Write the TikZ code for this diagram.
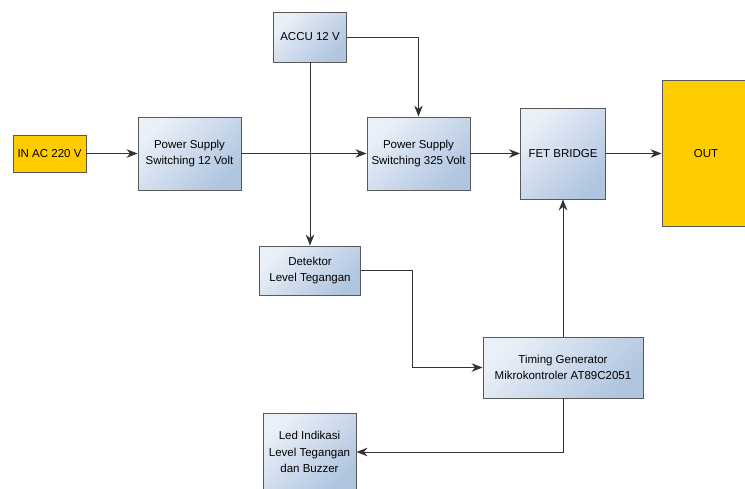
\documentclass[tikz,border=0pt]{standalone}
\usepackage{fontspec}
\setmainfont{Liberation Sans}
\usepackage{tikz}
\usetikzlibrary{arrows.meta}
\definecolor{birumuda}{HTML}{EAF0F8}
\definecolor{birutua}{HTML}{B0C5E0}
\definecolor{kuningout}{HTML}{FFCC00}
\definecolor{garis}{HTML}{333333}
\tikzset{
	blok/.style={draw=black!65, line width=0.9pt, top color=birumuda, bottom color=birutua, shading angle=45, align=center, inner sep=0pt, font=\fontsize{11.5}{16.5}\selectfont},
	kuning/.style={draw=black!65, line width=0.9pt, fill=kuningout, align=center, inner sep=0pt, font=\fontsize{11.5}{16.5}\selectfont},
	panah/.style={draw=garis, line width=0.8pt, -{Stealth[length=11pt,width=8.5pt]}}
}

\begin{document}
\begin{tikzpicture}[x=1pt, y=-1pt]
		%%%%% START %%%%%
		\clip (0, 0) rectangle (745, 488);
		\fill[white] (0, 0) rectangle (745, 488);
		
		\node[kuning, minimum width=73, minimum height=37] (inac) at (49.5, 153.5) {IN AC 220 V};
		\node[blok, minimum width=103, minimum height=73] (ps12) at (189.5, 153.5) {Power Supply\\ Switching 12 Volt};
		\node[blok, minimum width=73, minimum height=50] (accu) at (310, 37) {ACCU 12 V};
		\node[blok, minimum width=103, minimum height=73] (ps325) at (418.5, 153.5) {Power Supply\\ Switching 325 Volt};
		\node[blok, minimum width=85, minimum height=91] (fet) at (563, 153.5) {FET BRIDGE};
		\node[kuning, minimum width=98, minimum height=146] (out) at (711, 153.5) {\hspace*{-10pt}OUT};
		
		\node[blok, minimum width=101, minimum height=49] (det) at (310, 270.5) {Detektor\\ Level Tegangan};
		\node[blok, minimum width=160, minimum height=61] (timing) at (563, 367.5) {Timing Generator\\ Mikrokontroler AT89C2051};
		\node[blok, minimum width=93, minimum height=78] (led) at (309.5, 452) {Led Indikasi\\ Level Tegangan\\ dan Buzzer};
		
		\coordinate (belok) at (412, 367.5);
		
		% jalur utama
		\draw[panah] (inac.east) -- (ps12.west);
		\draw[panah] (ps12.east) -- (ps325.west);
		\draw[panah] (ps325.east) -- (fet.west);
		\draw[panah] (fet.east) -- (out.west);
		
		% dari accu
		\draw[panah] (accu.east) -| (ps325.north);
		\draw[panah] (accu.south) -- (det.north);
		
		% kontrol
		\draw[panah] (det.east) -| (belok) -- (timing.west);
		\draw[panah] (timing.north) -- (fet.south);
		\draw[panah] (timing.south) |- (led.east);
		%%%%% END %%%%%
	\end{tikzpicture}
\end{document}
